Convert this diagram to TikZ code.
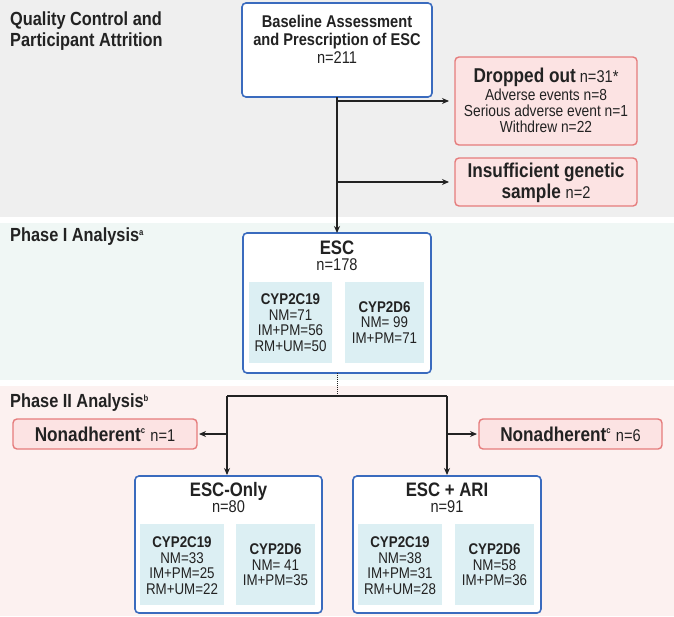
\documentclass[tikz,border=0pt]{standalone}
\usepackage{fontspec}
\setmainfont{Liberation Sans}[FakeStretch=0.86]
\usetikzlibrary{arrows.meta}
\definecolor{bandgray}{HTML}{EFEFEF}
\definecolor{bandmint}{HTML}{F0F7F5}
\definecolor{bandpink}{HTML}{FCF1F0}
\definecolor{blueedge}{HTML}{3A6BBE}
\definecolor{redfill}{HTML}{FCE3E3}
\definecolor{rededge}{HTML}{E57C7C}
\definecolor{innerfill}{HTML}{DCEFF3}
\definecolor{txt}{HTML}{222222}
\tikzset{
  bluebox/.style={draw=blueedge, line width=1.6pt, fill=white, rounded corners=4pt},
  redbox/.style={draw=rededge, line width=1.4pt, fill=redfill, rounded corners=4pt},
  innerbox/.style={fill=innerfill, draw=none},
  lbl/.style={text=txt, align=left, anchor=west, inner sep=0pt},
  ctext/.style={text=txt, align=center, inner sep=0pt},
  inner/.style={ctext, font=\fontsize{15.5}{15.6}\selectfont},
  boxhead/.style={ctext, font=\fontsize{17}{16}\selectfont},
  conn/.style={draw=txt, line width=1.1pt},
  arr/.style={conn, -{Stealth[length=7pt,width=6pt]}},
}
\newcommand{\supmark}[1]{\textsuperscript{\fontsize{9}{10}\selectfont\bfseries #1}}
\newcommand{\headtitle}[1]{{\fontsize{19.5}{16}\selectfont\bfseries #1}}
\begin{document}
\begin{tikzpicture}[x=1pt,y=-1pt]
\useasboundingbox (0,0) rectangle (674,616);
% bands
\fill[bandgray] (0,0) rectangle (674,217);
\fill[bandmint] (0,223) rectangle (674,380);
\fill[bandpink] (0,386) rectangle (674,616);
% section labels
\node[lbl, font=\bfseries\fontsize{19}{21}\selectfont] (qlab) at (10,31) {Quality Control and\\Participant Attrition};
\node[lbl, font=\bfseries\fontsize{19}{21}\selectfont] (p1lab) at (10,237) {Phase I Analysis\supmark{a}};
\node[lbl, font=\bfseries\fontsize{19}{21}\selectfont] (p2lab) at (10,403) {Phase II Analysis\supmark{b}};
% baseline box
\draw[bluebox] (242,3) rectangle (432,97);
\node[ctext, font=\fontsize{17}{17.8}\selectfont] (base) at (337,39.5) {\textbf{Baseline Assessment}\\\textbf{and Prescription of ESC}\\n=211};
\coordinate (basebot) at (337,97);
% dropped box
\draw[redbox] (455,57) rectangle (637,145);
\node[ctext, font=\fontsize{17}{19}\selectfont] (droptitle) at (546,77) {{\fontsize{20}{22}\selectfont\textbf{Dropped out}} n=31*};
\node[ctext, font=\fontsize{16}{16.2}\selectfont] (drop) at (546,111) {Adverse events n=8\\Serious adverse event n=1\\Withdrew n=22};
% insufficient box
\draw[redbox] (455,158) rectangle (637,206);
\node[ctext, font=\fontsize{20}{21}\selectfont] (insuf) at (546,182.5) {\textbf{Insufficient genetic}\\\textbf{sample} {\fontsize{17}{21}\selectfont n=2}};
% ESC box
\draw[bluebox] (243,233) rectangle (431,373);
\node[boxhead] (esc) at (337,256) {\headtitle{ESC}\\n=178};
\fill[innerbox] (249,282) rectangle (332,363);
\fill[innerbox] (345,282) rectangle (424,363);
\node[inner] (esc19) at (290.5,322.8) {\textbf{CYP2C19}\\NM=71\\IM+PM=56\\RM+UM=50};
\node[inner] (esc2d6) at (384.5,322.3) {\textbf{CYP2D6}\\NM= 99\\IM+PM=71};
\coordinate (escbot) at (337,373);
\coordinate (esctop) at (337,233);
% arrows from baseline
\coordinate (j1) at (337,101);
\coordinate (j2) at (337,182);
\draw[conn] (basebot) -- (j1);
\draw[arr] (j1) -- (449,101);
\draw[arr] (j2) -- (449,182);
\draw[arr] (basebot) -- (esctop);
% phase II
\coordinate (split) at (337,396);
\draw[draw=txt, line width=1pt, densely dotted] (escbot) -- (split);
\coordinate (bl) at (227,396);
\coordinate (br) at (447,396);
\coordinate (sl) at (227,434);
\coordinate (sr) at (447,434);
\draw[conn] (bl) -- (br);
% nonadherent boxes
\draw[redbox] (13,419) rectangle (197,449);
\node[ctext, font=\fontsize{20}{22}\selectfont] (nonl) at (105,434) {\textbf{Nonadherent}\supmark{c} {\fontsize{17}{22}\selectfont n=1}};
\draw[redbox] (479,419) rectangle (662,449);
\node[ctext, font=\fontsize{20}{22}\selectfont] (nonr) at (570.5,434) {\textbf{Nonadherent}\supmark{c} {\fontsize{17}{22}\selectfont n=6}};
\draw[arr] (sl) -- (199,434);
\draw[arr] (sr) -- (477,434);
% ESC-only box
\draw[bluebox] (135,476) rectangle (322,613);
\node[boxhead] (eonly) at (228.5,498) {\headtitle{ESC-Only}\\n=80};
\fill[innerbox] (140,524) rectangle (224,605);
\fill[innerbox] (236,524) rectangle (315,605);
\node[inner] (eo19) at (182,565.5) {\textbf{CYP2C19}\\NM=33\\IM+PM=25\\RM+UM=22};
\node[inner] (eo2d6) at (275.5,565) {\textbf{CYP2D6}\\NM= 41\\IM+PM=35};
% ESC + ARI box
\draw[bluebox] (353,476) rectangle (541,613);
\node[boxhead] (eari) at (447,498) {\headtitle{ESC + ARI}\\n=91};
\fill[innerbox] (358,524) rectangle (442,605);
\fill[innerbox] (455,524) rectangle (534,605);
\node[inner] (ea19) at (400,565.5) {\textbf{CYP2C19}\\NM=38\\IM+PM=31\\RM+UM=28};
\node[inner] (ea2d6) at (494.5,565) {\textbf{CYP2D6}\\NM=58\\IM+PM=36};
\draw[arr] (bl) -- (227,475);
\draw[arr] (br) -- (447,475);
\end{tikzpicture}
\end{document}
